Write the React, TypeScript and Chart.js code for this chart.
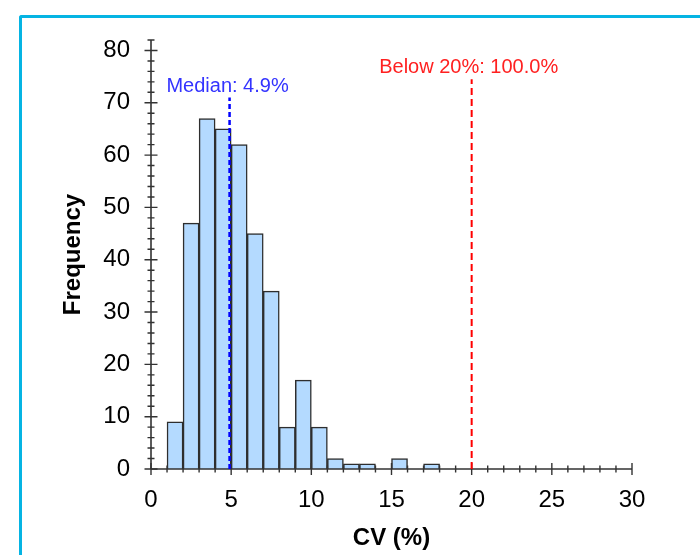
import React, { useEffect, useRef } from "react";
import { Chart, registerables } from "chart.js";

Chart.register(...registerables);

// ---- data ----
const BIN_STARTS = [1, 2, 3, 4, 5, 6, 7, 8, 9, 10, 11, 12, 13, 14, 15, 16, 17];
const COUNTS = [9, 47, 67, 65, 62, 45, 34, 8, 17, 8, 2, 1, 1, 0, 2, 0, 1];
const BIN_WIDTH = 1;

const X_TICKS = [0, 5, 10, 15, 20, 25, 30];
const Y_TICKS = [0, 10, 20, 30, 40, 50, 60, 70, 80];
const X_MIN = 0;
const X_MAX = 30;
const Y_MIN = 0;
const Y_MAX = 82;
const X_MINOR_STEP = 1;
const X_MAJOR_STEP = 5;
const Y_MINOR_STEP = 2;
const Y_MAJOR_STEP = 10;

const X_TITLE = "CV (%)";
const Y_TITLE = "Frequency";

const MEDIAN_VALUE = 4.9;
const MEDIAN_LABEL = "Median: 4.9%";
const MEDIAN_LINE_TOP = 71;
const THRESHOLD_VALUE = 20;
const THRESHOLD_LABEL = "Below 20%: 100.0%";
const THRESHOLD_LINE_TOP = 74.5;

const FONT = "'Liberation Sans', Arial, Helvetica, sans-serif";

const axesPlugin = {
  id: "customAxesAndMarkers",
  afterDatasetsDraw(chart: any) {
    const { ctx } = chart;
    const x = chart.scales.x;
    const y = chart.scales.y;
    const x0 = x.getPixelForValue(X_MIN);
    const x1 = x.getPixelForValue(X_MAX);
    const y0 = y.getPixelForValue(Y_MIN);
    const y1 = y.getPixelForValue(Y_MAX);
    ctx.save();

    // axis lines
    ctx.strokeStyle = "#333333";
    ctx.lineWidth = 1.6;
    ctx.setLineDash([]);
    ctx.beginPath();
    ctx.moveTo(x0, y0);
    ctx.lineTo(x1, y0);
    ctx.moveTo(x0, y0);
    ctx.lineTo(x0, y1);
    ctx.stroke();

    // x ticks (crossing)
    ctx.lineWidth = 1.4;
    ctx.beginPath();
    for (let v = X_MIN; v <= X_MAX + 1e-9; v += X_MINOR_STEP) {
      const px = x.getPixelForValue(v);
      const major = Math.abs(v % X_MAJOR_STEP) < 1e-9;
      const h = major ? 6 : 3.5;
      ctx.moveTo(px, y0 - h);
      ctx.lineTo(px, y0 + h);
    }
    // y ticks (crossing)
    for (let v = Y_MIN; v <= Y_MAX + 1e-9; v += Y_MINOR_STEP) {
      const py = y.getPixelForValue(v);
      const major = Math.abs(v % Y_MAJOR_STEP) < 1e-9;
      const h = major ? 6.5 : 3.5;
      ctx.moveTo(x0 - h, py);
      ctx.lineTo(x0 + h, py);
    }
    ctx.stroke();

    // median marker
    const mx = x.getPixelForValue(MEDIAN_VALUE);
    const mTop = y.getPixelForValue(MEDIAN_LINE_TOP);
    ctx.strokeStyle = "#0000ff";
    ctx.lineWidth = 2.5;
    ctx.setLineDash([5, 3]);
    ctx.beginPath();
    ctx.moveTo(mx, y0);
    ctx.lineTo(mx, mTop);
    ctx.stroke();

    // threshold marker
    const tx = x.getPixelForValue(THRESHOLD_VALUE);
    const tTop = y.getPixelForValue(THRESHOLD_LINE_TOP);
    ctx.strokeStyle = "#ff0000";
    ctx.lineWidth = 2;
    ctx.setLineDash([7, 4]);
    ctx.beginPath();
    ctx.moveTo(tx, y0);
    ctx.lineTo(tx, tTop);
    ctx.stroke();

    // labels
    ctx.setLineDash([]);
    ctx.font = `20px ${FONT}`;
    ctx.textAlign = "center";
    ctx.textBaseline = "alphabetic";
    ctx.fillStyle = "#3333ff";
    ctx.fillText(MEDIAN_LABEL, mx - 2, mTop - 6);
    ctx.fillStyle = "#ff2020";
    ctx.fillText(THRESHOLD_LABEL, tx - 3, tTop - 6);

    ctx.restore();
  },
};

function HistogramChart() {
  const canvasRef = useRef<HTMLCanvasElement | null>(null);

  useEffect(() => {
    if (!canvasRef.current) return;
    const data = BIN_STARTS.map((s, i) => ({ x: s + BIN_WIDTH / 2, y: COUNTS[i] }));
    const chart = new Chart(canvasRef.current, {
      type: "bar",
      data: {
        datasets: [
          {
            data: data as any,
            backgroundColor: "#b4daff",
            borderColor: "#2e2e2e",
            borderWidth: 1.5,
            barPercentage: 1,
            categoryPercentage: 1,
          },
        ],
      },
      options: {
        responsive: false,
        animation: false,
        events: [],
        layout: { padding: { left: 55, top: 40, right: 68, bottom: 0 } },
        plugins: {
          legend: { display: false },
          tooltip: { enabled: false },
          title: { display: false },
        },
        scales: {
          x: {
            type: "linear",
            min: X_MIN,
            max: X_MAX,
            offset: false,
            grid: { display: false, drawTicks: false },
            border: { display: false },
            afterBuildTicks: (s: any) => {
              s.ticks = X_TICKS.map((v) => ({ value: v }));
            },
            afterFit: (s: any) => {
              s.height = 86;
            },
            ticks: {
              padding: 17,
              color: "#000000",
              font: { family: FONT, size: 24 },
              maxRotation: 0,
              autoSkip: false,
            },
            title: {
              display: true,
              text: X_TITLE,
              color: "#000000",
              font: { family: FONT, size: 24, weight: "bold" },
              padding: { top: 4, bottom: 2 },
            },
          },
          y: {
            type: "linear",
            min: Y_MIN,
            max: Y_MAX,
            grid: { display: false, drawTicks: false },
            border: { display: false },
            afterBuildTicks: (s: any) => {
              s.ticks = Y_TICKS.map((v) => ({ value: v }));
            },
            afterFit: (s: any) => {
              s.width = 96;
            },
            ticks: {
              padding: 21,
              color: "#000000",
              font: { family: FONT, size: 24 },
              autoSkip: false,
            },
            title: {
              display: true,
              text: Y_TITLE,
              color: "#000000",
              font: { family: FONT, size: 24, weight: "bold" },
              padding: { top: 4, bottom: 4 },
            },
          },
        },
      },
      plugins: [axesPlugin],
    });
    return () => chart.destroy();
  }, []);

  return (
    <div
      style={{
        position: "fixed",
        left: 0,
        top: 0,
        width: 700,
        height: 555,
        overflow: "hidden",
        background: "#ffffff",
      }}
    >
      <div
        style={{
          position: "absolute",
          left: 19,
          top: 15,
          width: 760,
          height: 640,
          borderTop: "3px solid #05b4e3",
          borderLeft: "3px solid #05b4e3",
          borderTopLeftRadius: 3,
          boxSizing: "border-box",
        }}
      />
      <canvas
        ref={canvasRef}
        width={700}
        height={555}
        style={{ position: "absolute", left: 0, top: 0, width: 700, height: 555 }}
      />
    </div>
  );
}

export default function App() {
  return <HistogramChart />;
}
